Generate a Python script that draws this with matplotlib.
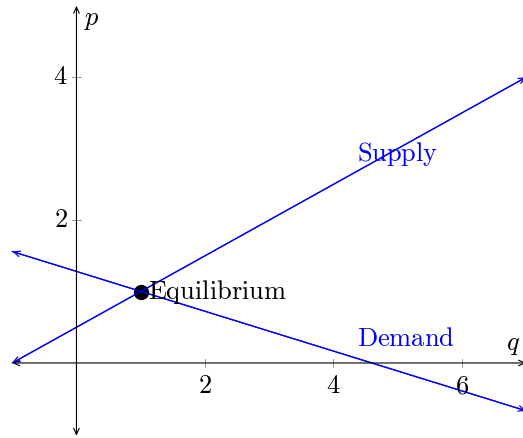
import numpy as np
import matplotlib
matplotlib.use("Agg")
import matplotlib.pyplot as plt

plt.rcParams['mathtext.fontset'] = 'cm'
plt.rcParams['font.family'] = 'serif'
plt.rcParams['font.serif'] = ['cmr10', 'DejaVu Serif']
plt.rcParams['axes.formatter.use_mathtext'] = True

# data
supply_q = [-1, 7]
supply_p = [0, 4]
demand_q = [-1, 7]
demand_p = [1.56, -0.67]
eq_q, eq_p = 1, 1
xticks = [2, 4, 6]
yticks = [2, 4]

fig = plt.figure(figsize=(5.23, 4.38), dpi=100)
ax = fig.add_axes([0, 0, 1, 1])
ax.set_xlim(-1.19, 6.95)
ax.set_ylim(-1.05, 5.08)

fs = 19
blue = '#0000ff'
for q, p in [(supply_q, supply_p), (demand_q, demand_p)]:
    ax.plot(q, p, color=blue, lw=0.9)
    ax.annotate('', xy=(q[0], p[0]), xytext=(q[1], p[1]),
                arrowprops=dict(arrowstyle='<->,head_length=0.45,head_width=0.2',
                                color=blue, lw=0.9, shrinkA=0, shrinkB=0),
                annotation_clip=False)

# axes lines with arrows
for sp in ax.spines.values():
    sp.set_visible(False)
ax.annotate('', xy=(7, 0), xytext=(-1, 0),
            arrowprops=dict(arrowstyle='<->,head_length=0.45,head_width=0.2',
                            color='black', lw=0.8, shrinkA=0, shrinkB=0),
            annotation_clip=False)
ax.annotate('', xy=(0, 5), xytext=(0, -1.02),
            arrowprops=dict(arrowstyle='<->,head_length=0.45,head_width=0.2',
                            color='black', lw=0.8, shrinkA=0, shrinkB=0),
            annotation_clip=False)

# ticks
ax.set_xticks([])
ax.set_yticks([])
for t in xticks:
    ax.plot([t, t], [-0.06, 0.06], color='gray', lw=0.6)
    ax.text(t, -0.16, '$%d$' % t, ha='center', va='top', fontsize=fs)
for t in yticks:
    ax.plot([-0.065, 0.065], [t, t], color='gray', lw=0.6)
    ax.text(-0.14, t, '$%d$' % t, ha='right', va='center', fontsize=fs)

ax.text(0.12, 4.8, '$p$', ha='left', va='center', fontsize=fs)
ax.text(6.8, 0.25, '$q$', ha='center', va='center', fontsize=fs)

ax.plot([eq_q], [eq_p], 'o', color='black', ms=10)
ax.text(eq_q + 0.12, eq_p, r'$\mathrm{Equilibrium}$', ha='left', va='center', fontsize=fs)
ax.text(4.37, 2.92, r'$\mathrm{Supply}$', ha='left', va='center', fontsize=fs, color=blue)
ax.text(4.37, 0.33, r'$\mathrm{Demand}$', ha='left', va='center', fontsize=fs, color=blue)

fig.savefig('out.png', dpi=100)
